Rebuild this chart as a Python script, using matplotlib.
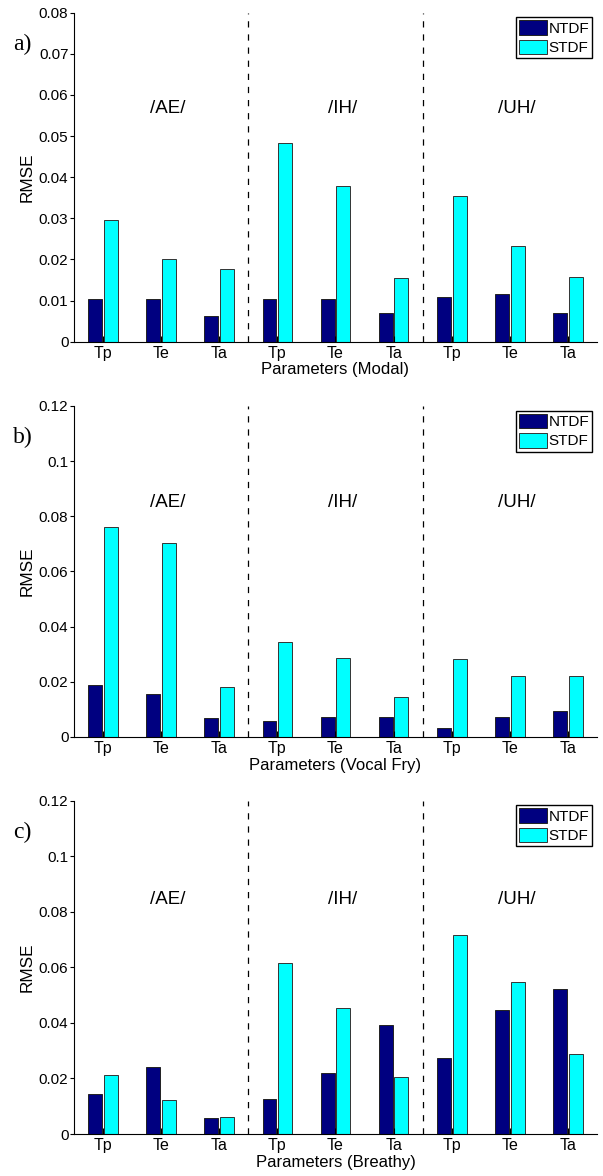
import matplotlib
matplotlib.use("Agg")
import matplotlib.pyplot as plt
import numpy as np

plt.rcParams['font.family'] = ['Liberation Sans', 'DejaVu Sans']

params = ['Tp', 'Te', 'Ta'] * 3
vowels = ['/AE/', '/IH/', '/UH/']
series = ['NTDF', 'STDF']

# Modal
modal_ntdf = [0.0105, 0.0103, 0.0062, 0.0104, 0.0103, 0.0070, 0.0110, 0.0117, 0.0071]
modal_stdf = [0.0297, 0.0202, 0.0177, 0.0483, 0.0378, 0.0156, 0.0355, 0.0233, 0.0158]
# Vocal Fry
fry_ntdf = [0.0188, 0.0157, 0.0070, 0.0057, 0.0071, 0.0071, 0.0033, 0.0071, 0.0095]
fry_stdf = [0.0761, 0.0704, 0.0180, 0.0344, 0.0286, 0.0145, 0.0283, 0.0222, 0.0221]
# Breathy
breathy_ntdf = [0.0145, 0.0240, 0.0059, 0.0126, 0.0218, 0.0394, 0.0274, 0.0446, 0.0521]
breathy_stdf = [0.0212, 0.0121, 0.0060, 0.0614, 0.0452, 0.0205, 0.0715, 0.0548, 0.0288]

panels = [
    ('a)', 'Parameters (Modal)', modal_ntdf, modal_stdf, 0.08, 0.01, 0.0567),
    ('b)', 'Parameters (Vocal Fry)', fry_ntdf, fry_stdf, 0.12, 0.02, 0.085),
    ('c)', 'Parameters (Breathy)', breathy_ntdf, breathy_stdf, 0.12, 0.02, 0.0843),
]

# axes boxes in figure fraction [left, bottom, width, height]
boxes = [
    [0.1227, 0.7094, 0.8673, 0.2798],
    [0.1227, 0.3733, 0.8673, 0.2815],
    [0.1227, 0.0357, 0.8673, 0.2834],
]

ntdf_color = '#000080'
stdf_color = '#00FFFF'

fig = plt.figure(figsize=(6.03, 11.76), dpi=100)

x = np.arange(1, 10)
w = 0.24
for (lab, xlab, ntdf, stdf, ymax, ystep, vy), box in zip(panels, boxes):
    ax = fig.add_axes(box)
    ax.bar(x - 0.135, ntdf, w, color=ntdf_color, edgecolor='#222222', linewidth=0.7, label=series[0])
    ax.bar(x + 0.135, stdf, w, color=stdf_color, edgecolor='#333333', linewidth=0.7, label=series[1])
    ax.set_xlim(0.5, 9.5)
    ax.set_ylim(0, ymax)
    yt = np.arange(0, ymax + ystep / 2, ystep)
    ax.set_yticks(yt)
    ax.set_yticklabels(['%g' % round(v, 3) for v in yt], fontsize=11)
    ax.set_xticks(x)
    ax.set_xticklabels(params, fontsize=11.5)
    ax.tick_params(axis='y', direction='out', length=3, width=0.8, pad=1)
    ax.tick_params(axis='x', direction='in', length=4, width=0.8, pad=3)
    for s in ['top', 'right']:
        ax.spines[s].set_visible(False)
    ax.spines['left'].set_linewidth(0.8)
    ax.spines['bottom'].set_linewidth(0.8)
    for xv in [3.5, 6.5]:
        ax.axvline(xv, color='black', linestyle=(0, (5, 5.5)), linewidth=0.9)
    for i, v in enumerate(vowels):
        ax.text(2.12 + 3 * i, vy, v, fontsize=13.5, ha='center', va='center')
    ax.set_xlabel(xlab, fontsize=12, labelpad=1)
    ax.set_ylabel('RMSE', fontsize=12.3, labelpad=3)
    ax.text(-0.117, 0.905, lab, transform=ax.transAxes, fontsize=17,
            family='Liberation Serif', ha='left', va='center')
    leg = ax.legend(loc='upper right', fontsize=11, fancybox=False, framealpha=1,
                    edgecolor='black', handlelength=1.85, handleheight=1.1,
                    handletextpad=0.1, borderpad=0.2, labelspacing=0.25,
                    borderaxespad=0.3)
    leg.get_frame().set_linewidth(1.0)

fig.savefig('out.png', dpi=100)
